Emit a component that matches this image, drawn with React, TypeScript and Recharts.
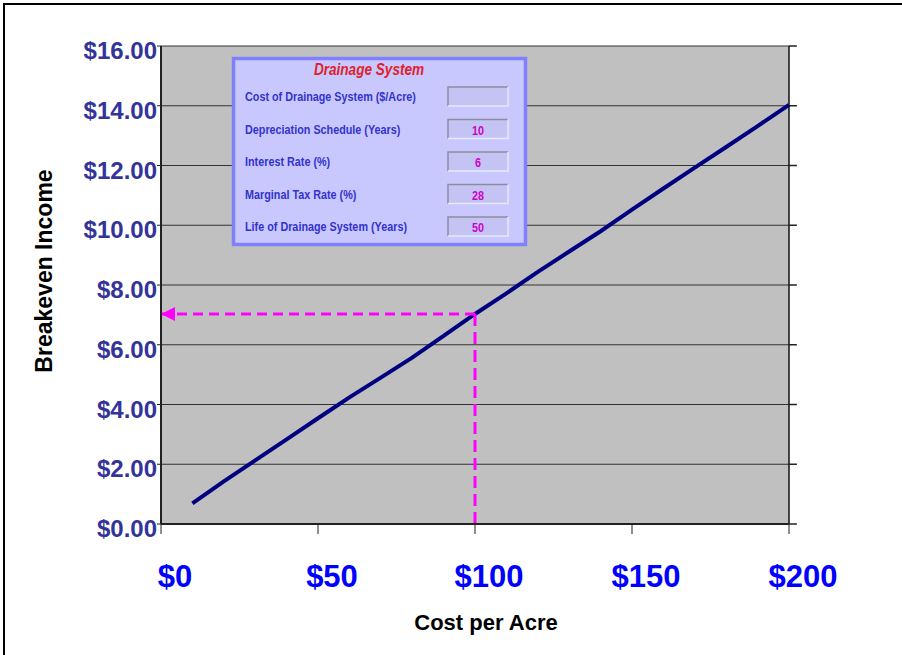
import React from "react";
import {
  LineChart,
  Line,
  XAxis,
  YAxis,
  CartesianGrid,
  ReferenceLine,
  ReferenceDot,
} from "recharts";

const FONT = "'Liberation Sans', Arial, sans-serif";

// cost of drainage per acre vs. income needed to break even
const costPerAcre = [10, 20, 30, 40, 50, 60, 70, 80, 90, 100, 110, 120, 130, 140, 150, 160, 170, 180, 190, 200];
const breakevenIncome = [0.69, 1.43, 2.13, 2.83, 3.54, 4.24, 4.9, 5.57, 6.3, 7.03, 7.72, 8.44, 9.12, 9.8, 10.52, 11.23, 11.93, 12.62, 13.32, 14.03];

const xTicks = [0, 50, 100, 150, 200];
const yTicks = [0, 2, 4, 6, 8, 10, 12, 14, 16];

// highlighted reading
const markedCost = 100;
const markedIncome = 7.03;

// input panel
const panelTitle = "Drainage System";
const inputLabels = [
  "Cost of Drainage System ($/Acre)",
  "Depreciation Schedule (Years)",
  "Interest Rate (%)",
  "Marginal Tax Rate (%)",
  "Life of Drainage System (Years)",
];
const inputValues = ["", "10", "6", "28", "50"];

const data = costPerAcre.map((cost, i) => ({ cost, income: breakevenIncome[i] }));
const xMax = xTicks[xTicks.length - 1];

const XTick = ({ x, y, payload }: any) => (
  <text
    x={x + 14}
    y={y}
    dy={51}
    textAnchor="middle"
    fill="#0000FF"
    fontSize={31}
    fontWeight="bold"
    fontFamily={FONT}
  >
    {`$${payload.value}`}
  </text>
);

const YTick = ({ x, y, payload }: any) => (
  <text
    x={x}
    y={y}
    dy={13}
    textAnchor="end"
    fill="#333399"
    fontSize={24}
    fontWeight="bold"
    fontFamily={FONT}
  >
    {`$${Number(payload.value).toFixed(2)}`}
  </text>
);

const YTitle = ({ viewBox }: any) => {
  const cx = viewBox.x - 17;
  const cy = viewBox.y + viewBox.height / 2 - 14;
  return (
    <text
      x={cx}
      y={cy}
      transform={`rotate(-90 ${cx} ${cy})`}
      textAnchor="middle"
      dominantBaseline="central"
      fontSize={23}
      fontWeight="bold"
      fontFamily={FONT}
      fill="#000"
    >
      Breakeven Income
    </text>
  );
};

const XTitle = ({ viewBox }: any) => (
  <text
    x={viewBox.x + viewBox.width / 2 + 11}
    y={viewBox.y + 106}
    textAnchor="middle"
    fontSize={22}
    fontWeight="bold"
    fontFamily={FONT}
    fill="#000"
  >
    Cost per Acre
  </text>
);

const ArrowHead = ({ cx, cy }: any) => (
  <polygon points={`${cx},${cy} ${cx + 14},${cy - 7} ${cx + 14},${cy + 7}`} fill="#FF00FF" />
);

function InputPanel() {
  const rowGap = 32.5;
  return (
    <svg width={298} height={192} style={{ position: "absolute", left: 231, top: 56 }}>
      <rect x={2.5} y={2.5} width={292} height={186} fill="#C8C8FF" stroke="#8080FF" strokeWidth={3.5} />
      <text
        transform="translate(138 19) scale(0.85 1)"
        textAnchor="middle"
        fontSize={16}
        fontWeight="bold"
        fontStyle="italic"
        fontFamily={FONT}
        fill="#E0202A"
      >
        {panelTitle}
      </text>
      {inputLabels.map((label, i) => {
        const base = 45 + i * rowGap;
        return (
          <g key={label}>
            <text
              transform={`translate(14 ${base}) scale(0.8 1)`}
              fontSize={13.5}
              fontWeight="bold"
              fontFamily={FONT}
              fill="#3333CC"
            >
              {label}
            </text>
            <rect x={217} y={base - 14} width={60} height={19} fill="#C4C4F4" />
            <polyline
              points={`${217},${base + 5} ${217},${base - 14} ${277},${base - 14}`}
              fill="none"
              stroke="#8C8C9C"
              strokeWidth={1.5}
            />
            <polyline
              points={`${277},${base - 14} ${277},${base + 5} ${217},${base + 5}`}
              fill="none"
              stroke="#E8E8FF"
              strokeWidth={1.5}
            />
            <text
              transform={`translate(247 ${base + 1}) scale(0.8 1)`}
              textAnchor="middle"
              fontSize={13.5}
              fontWeight="bold"
              fontFamily={FONT}
              fill="#CC00CC"
            >
              {inputValues[i]}
            </text>
          </g>
        );
      })}
    </svg>
  );
}

export default function App() {
  return (
    <div
      style={{
        position: "absolute",
        left: 0,
        top: 0,
        width: 902,
        height: 655,
        background: "#fff",
        overflow: "hidden",
      }}
    >
      <div
        style={{
          position: "absolute",
          left: 3,
          top: 3,
          width: 905,
          height: 660,
          borderTop: "2px solid #000",
          borderLeft: "2px solid #000",
        }}
      />
      <LineChart
        width={902}
        height={655}
        data={data}
        margin={{ top: 46, right: 113, bottom: 31, left: 61 }}
      >
        <CartesianGrid vertical={false} stroke="#333" fill="#C0C0C0" fillOpacity={1} />
        <XAxis
          dataKey="cost"
          type="number"
          domain={[0, 200]}
          ticks={xTicks}
          height={100}
          tickSize={10}
          stroke="#222"
          axisLine={{ stroke: "#222", strokeWidth: 2 }}
          tickLine={{ stroke: "#222" }}
          tick={<XTick />}
          label={{ content: XTitle }}
        />
        <YAxis
          type="number"
          domain={[0, 16]}
          ticks={yTicks}
          width={100}
          tickSize={4}
          tickMargin={0}
          axisLine={{ stroke: "#222", strokeWidth: 2 }}
          tickLine={{ stroke: "#222" }}
          tick={<YTick />}
          label={{ content: YTitle }}
        />
        {/* right-hand frame and its short outward ticks */}
        <ReferenceLine x={xMax} stroke="#111" strokeWidth={1.5} />
        {yTicks.map((v) => (
          <ReferenceLine
            key={v}
            segment={[
              { x: xMax, y: v },
              { x: xMax * 1.0125, y: v },
            ]}
            ifOverflow="visible"
            stroke="#222"
            strokeWidth={1.5}
          />
        ))}
        <Line
          type="linear"
          dataKey="income"
          stroke="#000080"
          strokeWidth={4}
          dot={false}
          activeDot={false}
          isAnimationActive={false}
        />
        <ReferenceLine
          segment={[
            { x: 0, y: markedIncome },
            { x: markedCost, y: markedIncome },
          ]}
          stroke="#FF00FF"
          strokeWidth={3}
          strokeDasharray="10 6"
        />
        <ReferenceLine
          segment={[
            { x: markedCost, y: markedIncome },
            { x: markedCost, y: 0 },
          ]}
          stroke="#FF00FF"
          strokeWidth={3}
          strokeDasharray="12 6"
        />
        <ReferenceDot x={0} y={markedIncome} r={7} ifOverflow="visible" shape={<ArrowHead />} />
      </LineChart>
      <InputPanel />
    </div>
  );
}
